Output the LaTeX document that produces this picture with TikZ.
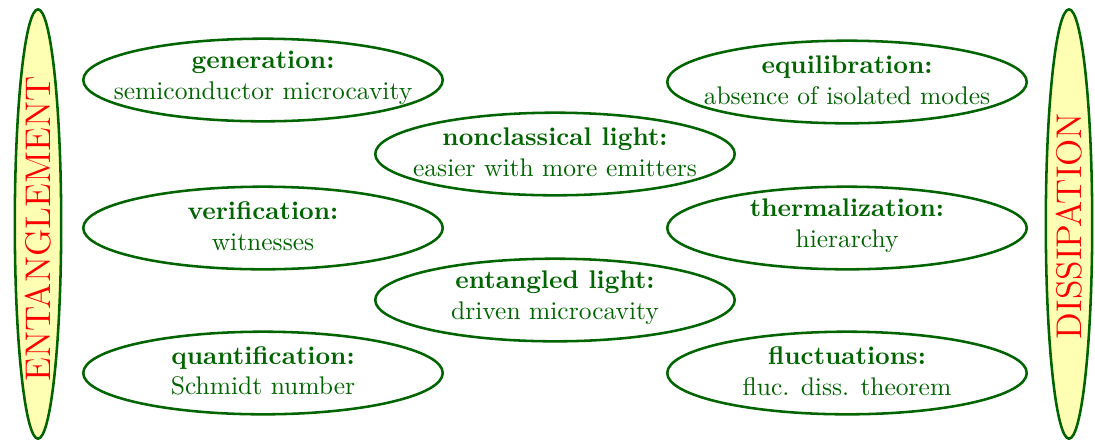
\documentclass[tikz,border=0pt]{standalone}
\usetikzlibrary{shapes.geometric}
\definecolor{dgreen}{RGB}{0,100,0}
\definecolor{lyellow}{RGB}{255,255,180}
\begin{document}
\begin{tikzpicture}[x=0.3922pt,y=-0.3922pt,
  topic/.style={ellipse,draw=dgreen,line width=1pt,
    minimum width=141pt,minimum height=32.4pt,inner sep=0pt},
  topictext/.style={text=dgreen,align=center,inner sep=0pt},
  side/.style={ellipse,draw=dgreen,line width=1pt,fill=lyellow,
    minimum width=18.2pt,minimum height=168.4pt,inner sep=0pt},
  sidetext/.style={text=red,rotate=90,inner sep=0pt,font=\fontsize{14}{17}\selectfont}]
\useasboundingbox (0,0) rectangle (1095,446);
\node[side] (ent) at (38,224) {};
\node[sidetext] (entt) at (38,229) {ENTANGLEMENT};
\node[side] (dis) at (1069,224) {};
\node[sidetext] (dist) at (1069,226) {DISSIPATION};
\node[topic] (gen) at (263,80) {};
\node[topictext] (gent) at (263,78) {\textbf{generation:}\\semiconductor microcavity};
\node[topic] (equ) at (847,82) {};
\node[topictext] (equt) at (847,80) {\textbf{equilibration:}\\absence of isolated modes};
\node[topic] (ncl) at (555,154) {};
\node[topictext] (nclt) at (555,152) {\textbf{nonclassical light:}\\easier with more emitters};
\node[topic] (ver) at (263,228) {};
\node[topictext] (vert) at (263,226) {\textbf{verification:}\\witnesses};
\node[topic] (the) at (847,228) {};
\node[topictext] (thet) at (847,226) {\textbf{thermalization:}\\hierarchy};
\node[topic] (enl) at (555,300) {};
\node[topictext] (enlt) at (555,298) {\textbf{entangled light:}\\driven microcavity};
\node[topic] (qua) at (263,373) {};
\node[topictext] (quat) at (263,371) {\textbf{quantification:}\\Schmidt number};
\node[topic] (flu) at (847,373) {};
\node[topictext] (flut) at (847,371) {\textbf{fluctuations:}\\fluc. diss. theorem};
\end{tikzpicture}
\end{document}
